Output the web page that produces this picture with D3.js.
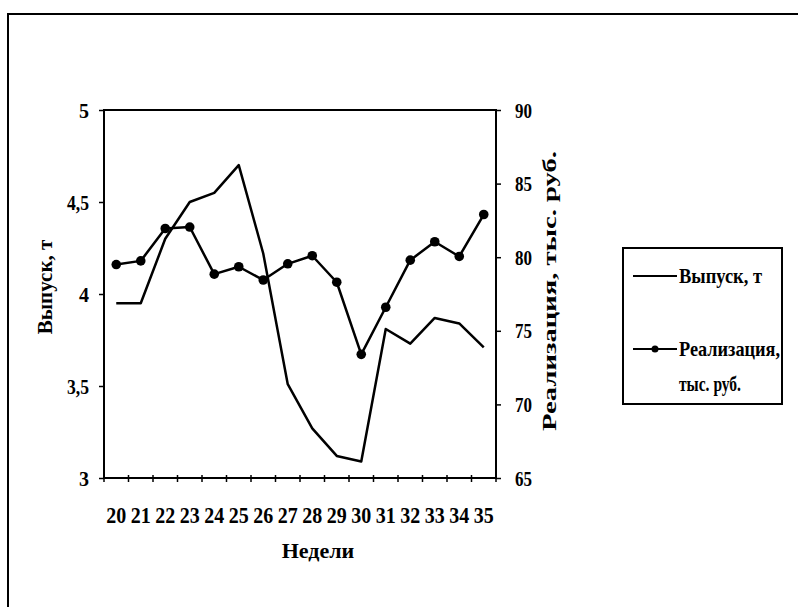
<!DOCTYPE html>
<html><head><meta charset="utf-8">
<script src="https://cdn.jsdelivr.net/npm/d3@7"></script>
<style>
html,body{margin:0;padding:0;background:#fff;}
svg{display:block;}
text{font-family:"Liberation Serif","Times New Roman",serif;fill:#000;}
</style></head>
<body>
<svg id="c" width="798" height="607"></svg>
<script>
const weeks = ["20","21","22","23","24","25","26","27","28","29","30","31","32","33","34","35"];
const output = [3.95,3.95,4.3,4.5,4.55,4.7,4.22,3.51,3.27,3.12,3.09,3.81,3.73,3.87,3.84,3.71];
const sales = [79.5,79.75,81.95,82.05,78.85,79.35,78.45,79.55,80.1,78.3,73.4,76.6,79.8,81.05,80.05,82.9];
const leftTicks = [3,3.5,4,4.5,5];
const rightTicks = [65,70,75,80,85,90];
const seriesNames = ["Выпуск, т","Реализация,","тыс. руб."];

const svg = d3.select("#c");
const L=104,R=496,T=110,B=478;
const x = d3.scaleBand().domain(weeks).range([L,R]);
const y1 = d3.scaleLinear().domain([3,5]).range([B,T]);
const y2 = d3.scaleLinear().domain([65,90]).range([B,T]);

// outer frame (partial)
svg.append("path").attr("d",`M8,607 L8,14 L798,14`).attr("fill","none").attr("stroke","#000").attr("stroke-width",2);

// plot frame
svg.append("rect").attr("x",L).attr("y",T).attr("width",R-L).attr("height",B-T)
  .attr("fill","none").attr("stroke","#000").attr("stroke-width",2);

// left axis
const la = svg.append("g").attr("transform",`translate(${L},0)`)
  .call(d3.axisLeft(y1).tickValues(leftTicks).tickSize(5).tickPadding(10)
    .tickFormat(d=>String(d).replace(".",",")));
la.select(".domain").remove();
la.selectAll("line").attr("stroke","#000").attr("stroke-width",1.5);
la.selectAll("text").attr("font-size",20).attr("font-weight","bold").attr("font-family","Liberation Serif").attr("dy","0.35em")
  .each(function(d){ if(String(d).length>1) d3.select(this).attr("textLength",22).attr("lengthAdjust","spacingAndGlyphs"); });

// right axis
const ra = svg.append("g").attr("transform",`translate(${R},0)`)
  .call(d3.axisRight(y2).tickValues(rightTicks).tickSize(5).tickPadding(14));
ra.select(".domain").remove();
ra.selectAll("line").attr("stroke","#000").attr("stroke-width",1.5);
ra.selectAll("text").attr("font-size",20).attr("font-weight","bold").attr("font-family","Liberation Serif").attr("dy","0.35em")
  .attr("textLength",17).attr("lengthAdjust","spacingAndGlyphs");

// x axis tick marks at band boundaries
const bounds = weeks.map(w=>x(w)).concat([R]);
svg.append("g").selectAll("line").data(bounds).join("line")
  .attr("x1",d=>d).attr("x2",d=>d).attr("y1",B-3).attr("y2",B+4)
  .attr("stroke","#000").attr("stroke-width",1.5);

// x labels
const xa = svg.append("g").attr("transform",`translate(0,${B})`)
  .call(d3.axisBottom(x).tickSize(0).tickPadding(38));
xa.select(".domain").remove();
xa.selectAll("text").attr("font-size",24).attr("font-weight","bold").attr("font-family","Liberation Serif")
  .attr("dy","0.3em").attr("textLength",20).attr("lengthAdjust","spacingAndGlyphs");

// axis titles
svg.append("text").attr("transform","translate(52,287) rotate(-90)").attr("text-anchor","middle")
  .attr("font-size",21).attr("font-weight","bold").text("Выпуск, т");
svg.append("text").attr("transform","translate(556,291) rotate(-90)").attr("text-anchor","middle")
  .attr("font-size",18).attr("font-weight","bold")
  .attr("textLength",280).attr("lengthAdjust","spacingAndGlyphs").text("Реализация, тыс. руб.");
svg.append("text").attr("x",318).attr("y",558).attr("text-anchor","middle")
  .attr("font-size",22).attr("font-weight","bold").text("Недели");

// lines
const cx = w=>x(w)+x.bandwidth()/2;
svg.append("path").datum(output)
  .attr("d",d3.line().x((d,i)=>cx(weeks[i])).y(d=>y1(d)))
  .attr("fill","none").attr("stroke","#000").attr("stroke-width",2.5).attr("stroke-linejoin","round");
svg.append("path").datum(sales)
  .attr("d",d3.line().x((d,i)=>cx(weeks[i])).y(d=>y2(d)))
  .attr("fill","none").attr("stroke","#000").attr("stroke-width",2.5).attr("stroke-linejoin","round");
svg.append("g").selectAll("circle").data(sales).join("circle")
  .attr("cx",(d,i)=>cx(weeks[i])).attr("cy",d=>y2(d)).attr("r",4.8).attr("fill","#000");

// legend
const lg = svg.append("g");
lg.append("rect").attr("x",623).attr("y",248).attr("width",159).attr("height",156)
  .attr("fill","none").attr("stroke","#000").attr("stroke-width",2);
lg.append("line").attr("x1",633).attr("x2",677).attr("y1",276).attr("y2",276).attr("stroke","#000").attr("stroke-width",2);
lg.append("line").attr("x1",633).attr("x2",677).attr("y1",349).attr("y2",349).attr("stroke","#000").attr("stroke-width",2);
lg.append("circle").attr("cx",655).attr("cy",349).attr("r",3.5).attr("fill","#000");
lg.append("text").attr("x",679).attr("y",283).attr("font-size",21).attr("font-weight","bold")
  .attr("textLength",83).attr("lengthAdjust","spacingAndGlyphs").text(seriesNames[0]);
lg.append("text").attr("x",679).attr("y",356).attr("font-size",21).attr("font-weight","bold")
  .attr("textLength",101).attr("lengthAdjust","spacingAndGlyphs").text(seriesNames[1]);
lg.append("text").attr("x",679).attr("y",391).attr("font-size",21).attr("font-weight","bold")
  .attr("textLength",62).attr("lengthAdjust","spacingAndGlyphs").text(seriesNames[2]);
</script>
</body></html>
